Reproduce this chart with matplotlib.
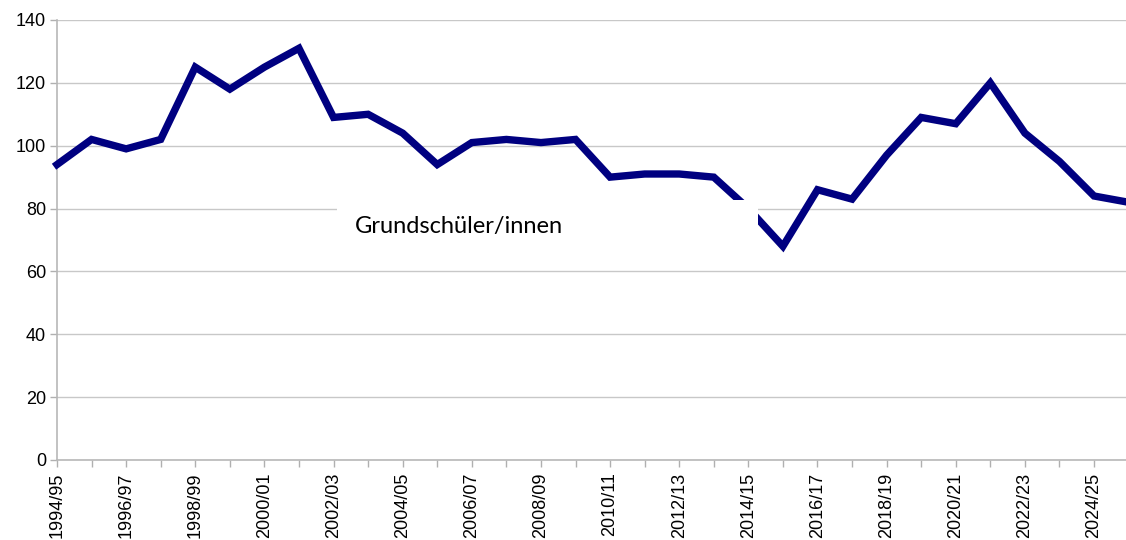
import numpy as np
import matplotlib
matplotlib.use("Agg")
import matplotlib.pyplot as plt
from matplotlib.patches import Rectangle

# school years (one point per year)
years = ["1994/95", "1995/96", "1996/97", "1997/98", "1998/99", "1999/00",
         "2000/01", "2001/02", "2002/03", "2003/04", "2004/05", "2005/06",
         "2006/07", "2007/08", "2008/09", "2009/10", "2010/11", "2011/12",
         "2012/13", "2013/14", "2014/15", "2015/16", "2016/17", "2017/18",
         "2018/19", "2019/20", "2020/21", "2021/22", "2022/23", "2023/24",
         "2024/25", "2025/26"]
values = [94, 102, 99, 102, 125, 118, 125, 131, 109, 110, 104, 94,
          101, 102, 101, 102, 90, 91, 91, 90, 80, 68, 86, 83,
          97, 109, 107, 120, 104, 95, 84, 82]
y_ticks = [0, 20, 40, 60, 80, 100, 120, 140]
label = "Grundschüler/innen"

plt.rcParams['font.family'] = ['Liberation Sans', 'DejaVu Sans']

fig = plt.figure(figsize=(11.26, 5.4), dpi=100)
ax = fig.add_axes([57/1126, 80/540, 1071.6/1126, 440/540])

x = np.arange(len(years))
ax.plot(x, values, color='#000080', lw=5.3, solid_joinstyle='miter', zorder=3, clip_on=False)

ax.set_xlim(0, len(years) - 1)
ax.set_ylim(0, 140)
ax.set_yticks(y_ticks)
ax.set_xticks(x)
ax.set_xticklabels([y if i % 2 == 0 else '' for i, y in enumerate(years)], rotation=90)
ax.tick_params(axis='both', colors='#b0b0b0', labelcolor='black', labelsize=13, length=5, width=1)
ax.tick_params(axis='x', pad=4)
ax.tick_params(axis='y', pad=3)

ax.yaxis.grid(True, color='#c8c8c8', lw=1)
ax.set_axisbelow(True)
for s in ['top', 'right']:
    ax.spines[s].set_visible(False)
for s in ['left', 'bottom']:
    ax.spines[s].set_color('#b8b8b8')
    ax.spines[s].set_linewidth(1.2)

# white label box that sits over the chart
fig.add_artist(Rectangle((337/1126, 1 - 254/540), 421/1126, 54/540,
                         transform=fig.transFigure, facecolor='white', edgecolor='none', zorder=5))
fig.text(355/1126, 1 - 227/540, label, fontsize=17, family=['Lato', 'DejaVu Sans'],
         va='center', ha='left', zorder=6)

fig.savefig('out.png', dpi=100)
